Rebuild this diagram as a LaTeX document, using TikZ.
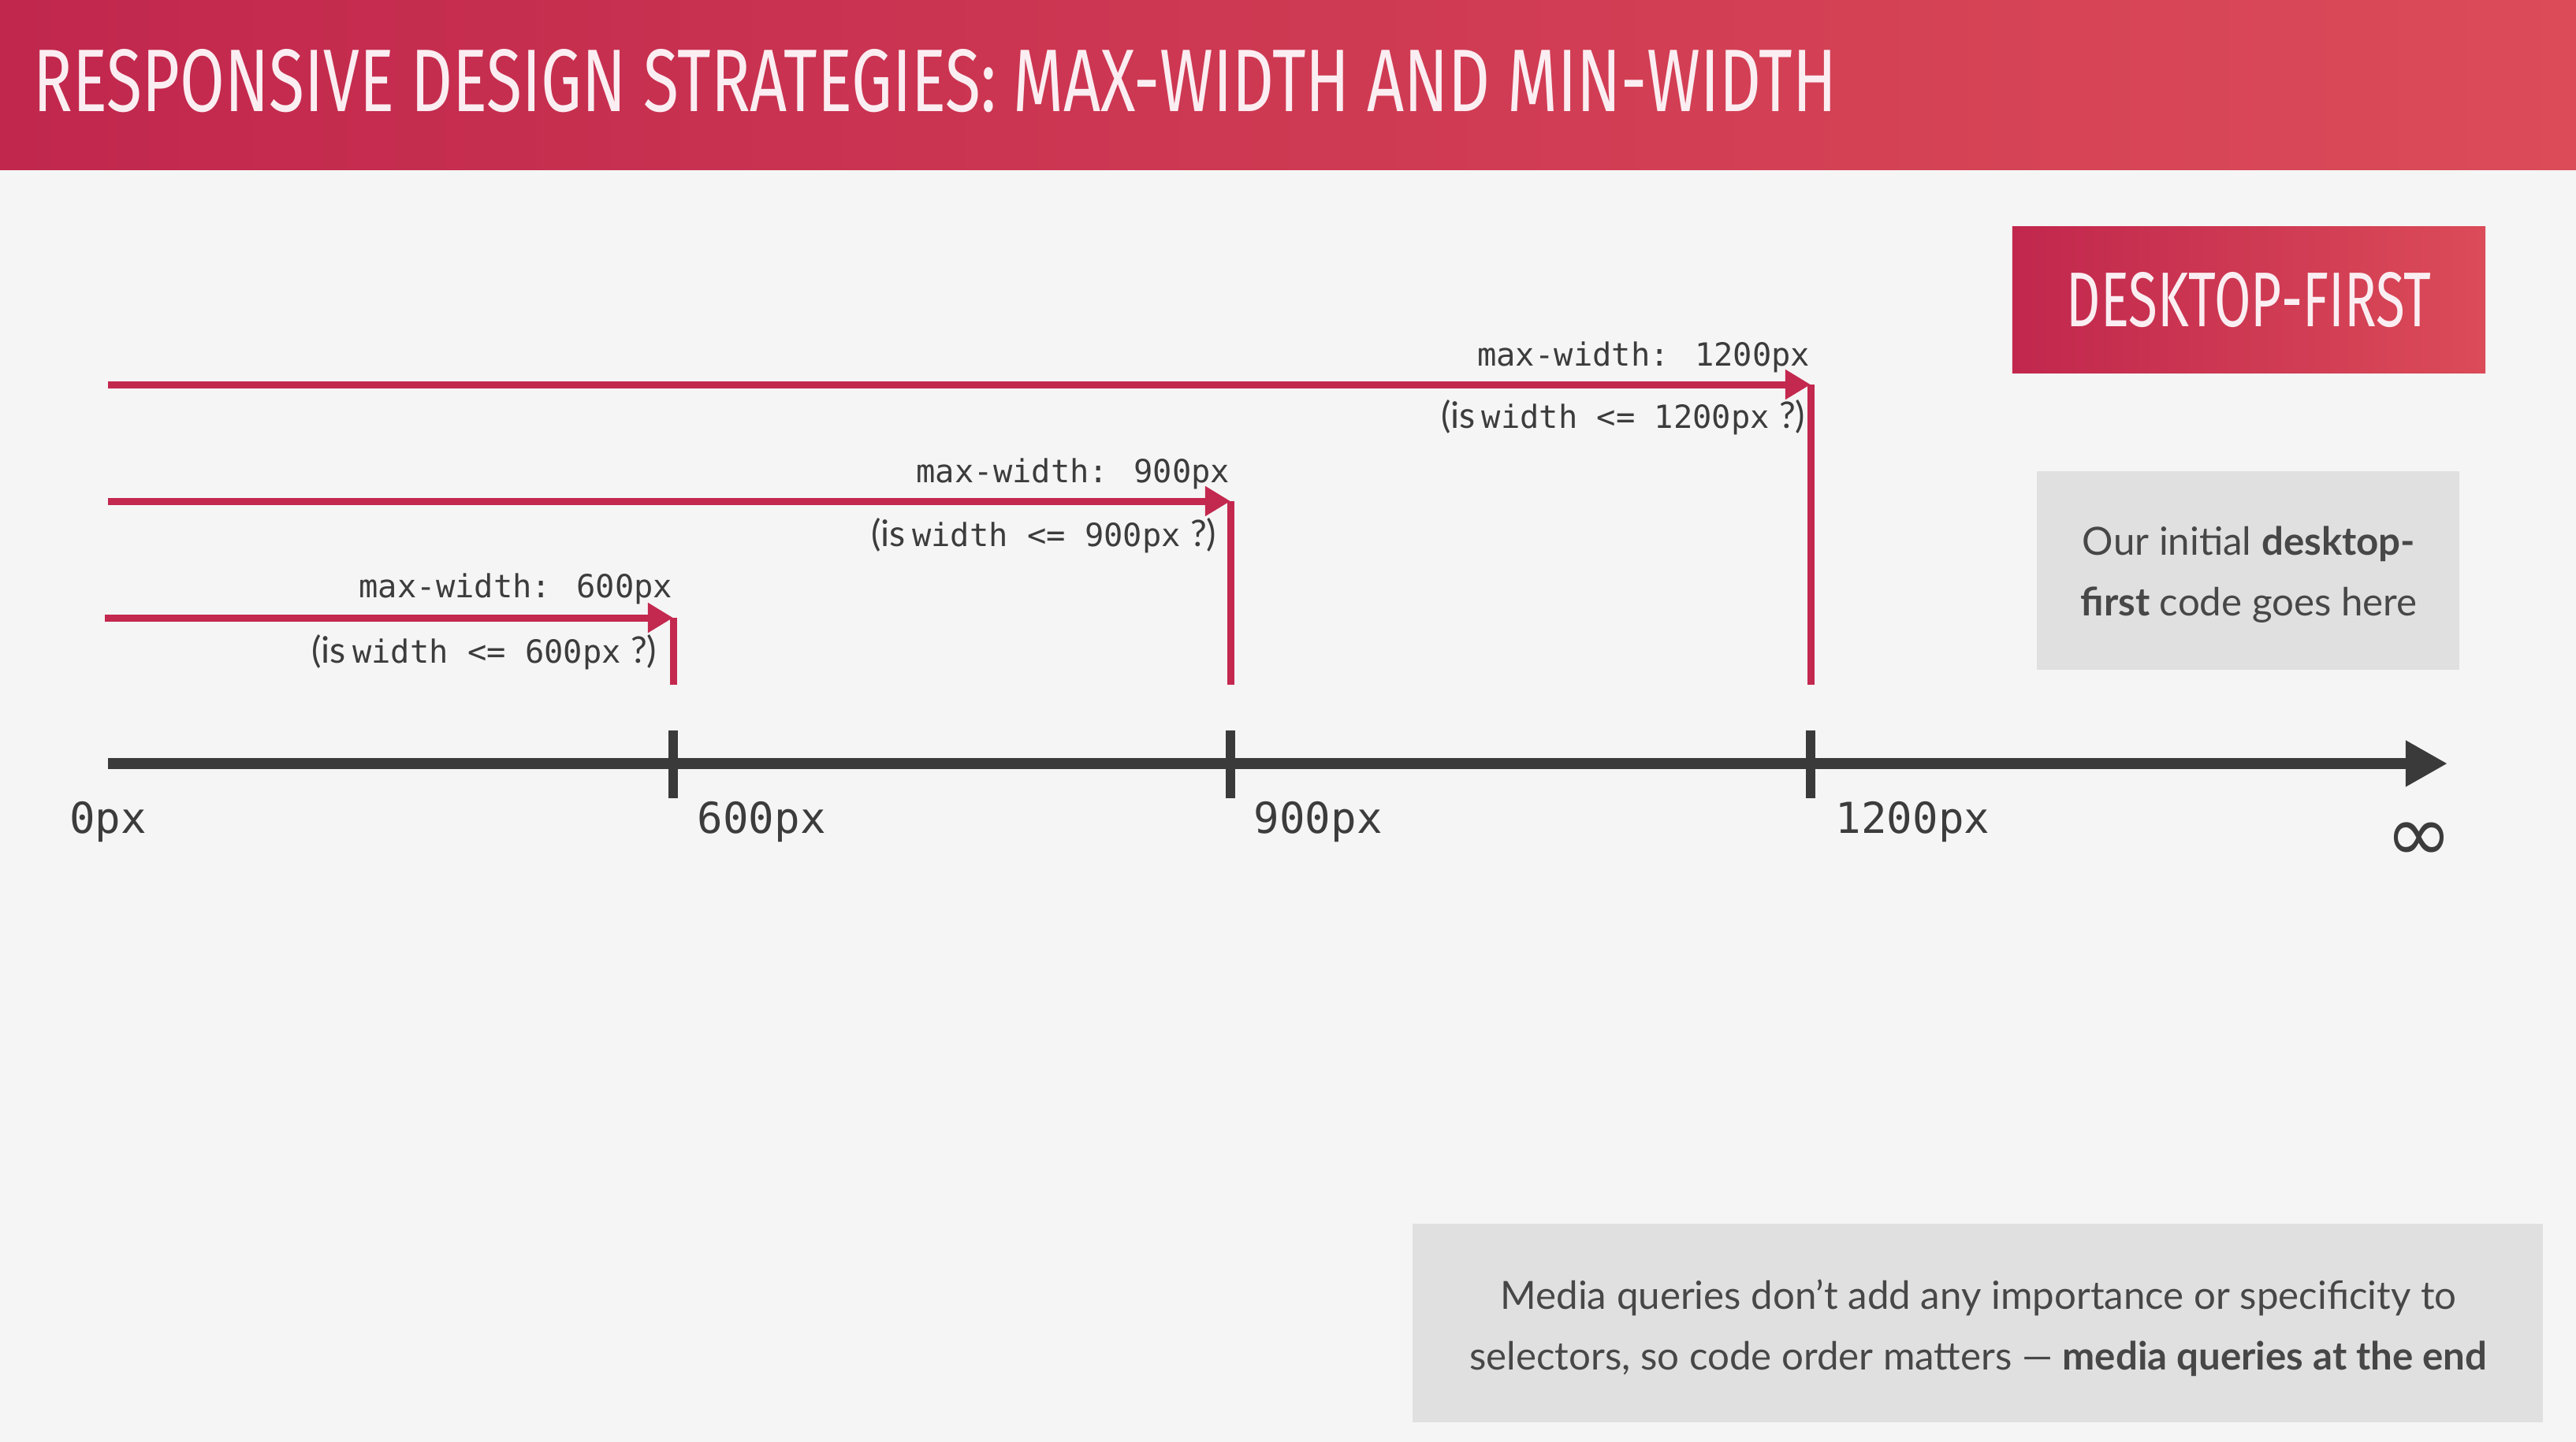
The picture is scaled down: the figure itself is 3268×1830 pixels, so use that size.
\documentclass[tikz,border=0pt]{standalone}
\usepackage{fontspec}
\usepackage{graphicx}
\setmainfont{Lato}
\newfontfamily\monofont{DejaVu Sans Mono}
\newfontfamily\titlefont{Fira Sans}
\newfontfamily\symfont{DejaVu Sans}
\usetikzlibrary{arrows.meta}

\definecolor{pagebg}{HTML}{F5F5F5}
\definecolor{hdrL}{HTML}{C1274D}
\definecolor{hdrR}{HTML}{DB4B58}
\definecolor{brand}{HTML}{C3284F}
\definecolor{axisgray}{HTML}{3A3A3A}
\definecolor{ink}{HTML}{3C3C3C}
\definecolor{boxgray}{HTML}{E0E0E0}
\definecolor{notegray}{HTML}{474747}
\definecolor{titlewhite}{HTML}{FBEEF2}

% sans parts of the breakpoint questions
\newcommand{\qsans}[1]{{\rmfamily\fontsize{13.2pt}{14pt}\selectfont #1}}

\begin{document}
\begin{tikzpicture}[x=0.01cm, y=-0.01cm,
  redline/.style={draw=brand, line width=0.09cm},
  redarrow/.style={redline, -{Triangle[length=0.32cm,width=0.36cm]}},
  axisline/.style={draw=axisgray, line width=0.14cm, -{Triangle[length=0.53cm,width=0.55cm]}},
  tickmark/.style={draw=axisgray, line width=0.12cm},
  codelabel/.style={inner sep=0, text=ink, font=\monofont\fontsize{11.5pt}{13pt}\selectfont},
  axislabel/.style={inner sep=0, text=ink, font=\monofont\fontsize{15.4pt}{17pt}\selectfont},
  graybox/.style={fill=boxgray, inner sep=0},
  notetext/.style={inner sep=0, text=notegray, font=\fontsize{14pt}{16pt}\selectfont},
  banner/.style={inner sep=0, text=titlewhite}]

% page and header band
\fill[pagebg] (0,0) rectangle (3268,1830);
\path[use as bounding box] (0,0) rectangle (3268,1830);
\shade[left color=hdrL, right color=hdrR] (0,0) rectangle (3268,215);
\node[banner, anchor=base west] (title) at (42,142)
  {\resizebox{22.86cm}{0.79cm}{\titlefont RESPONSIVE DESIGN STRATEGIES: MAX-WIDTH AND MIN-WIDTH}};

% desktop-first tag
\node[banner, shade, left color=hdrL, right color=hdrR, minimum width=6cm, minimum height=1.85cm]
  (deskfirst) at (2853,380.5)
  {\resizebox{4.62cm}{0.69cm}{\titlefont DESKTOP-FIRST}};

% note boxes
\node[graybox, minimum width=5.36cm, minimum height=2.52cm] (initbox) at (2852,724) {};
\node[notetext, anchor=base] (initl1) at (2853,704) {Our initial \textbf{desktop-}};
\node[notetext, anchor=base] (initl2) at (2853,781) {\textbf{first} code goes here};

\node[graybox, minimum width=14.34cm, minimum height=2.52cm] (mqbox) at (2509,1679) {};
\node[notetext, anchor=base] (mql1) at (2510,1661) {Media queries don’t add any importance or specificity to};
\node[notetext, anchor=base] (mql2) at (2510,1738) {selectors, so code order matters — \textbf{media queries at the end}};

% width axis
\coordinate (a0) at (137,969);
\coordinate (a600) at (854,969);
\coordinate (a900) at (1561,969);
\coordinate (a1200) at (2297,969);
\coordinate (ainf) at (3105,969);
\draw[axisline] (a0) -- (ainf);
\foreach \t in {a600,a900,a1200}
  \draw[tickmark] (\t) ++(0,-42) -- ++(0,86);

\node[axislabel, anchor=base] (l0) at (137,1057) {0px};
\node[axislabel, anchor=base west] (l600) at (884,1057) {600px};
\node[axislabel, anchor=base west] (l900) at (1590,1057) {900px};
\node[axislabel, anchor=base west] (l1200) at (2328,1057) {1200px};
\node[inner sep=0, text=ink, font=\symfont\fontsize{29pt}{30pt}\selectfont] (linf) at (3069,1069) {∞};

% max-width breakpoints
\coordinate (s1200) at (137,488);
\coordinate (e1200) at (2297,488);
\coordinate (b1200) at (2297,869);
\coordinate (s900) at (137,636);
\coordinate (e900) at (1561,636);
\coordinate (b900) at (1561,869);
\coordinate (s600) at (133,784);
\coordinate (e600) at (854,784);
\coordinate (b600) at (854,869);

\draw[redline] (e1200) -- (b1200);
\draw[redline] (e900) -- (b900);
\draw[redline] (e600) -- (b600);
\draw[redarrow] (s1200) -- (e1200);
\draw[redarrow] (s900) -- (e900);
\draw[redarrow] (s600) -- (e600);

\node[codelabel, anchor=base east] (mw1200) at (2297,464) {max-width: 1200px};
\node[codelabel, anchor=base east] (q1200) at (2291,543) {\qsans{(is}\hspace{0.2em}width <= 1200px\hspace{0.3em}\qsans{?)}};
\node[codelabel, anchor=base east] (mw900) at (1561,612) {max-width: 900px};
\node[codelabel, anchor=base east] (q900) at (1544,693) {\qsans{(is}\hspace{0.2em}width <= 900px\hspace{0.3em}\qsans{?)}};
\node[codelabel, anchor=base east] (mw600) at (854,758) {max-width: 600px};
\node[codelabel, anchor=base east] (q600) at (834,841) {\qsans{(is}\hspace{0.2em}width <= 600px\hspace{0.3em}\qsans{?)}};

\end{tikzpicture}
\end{document}
